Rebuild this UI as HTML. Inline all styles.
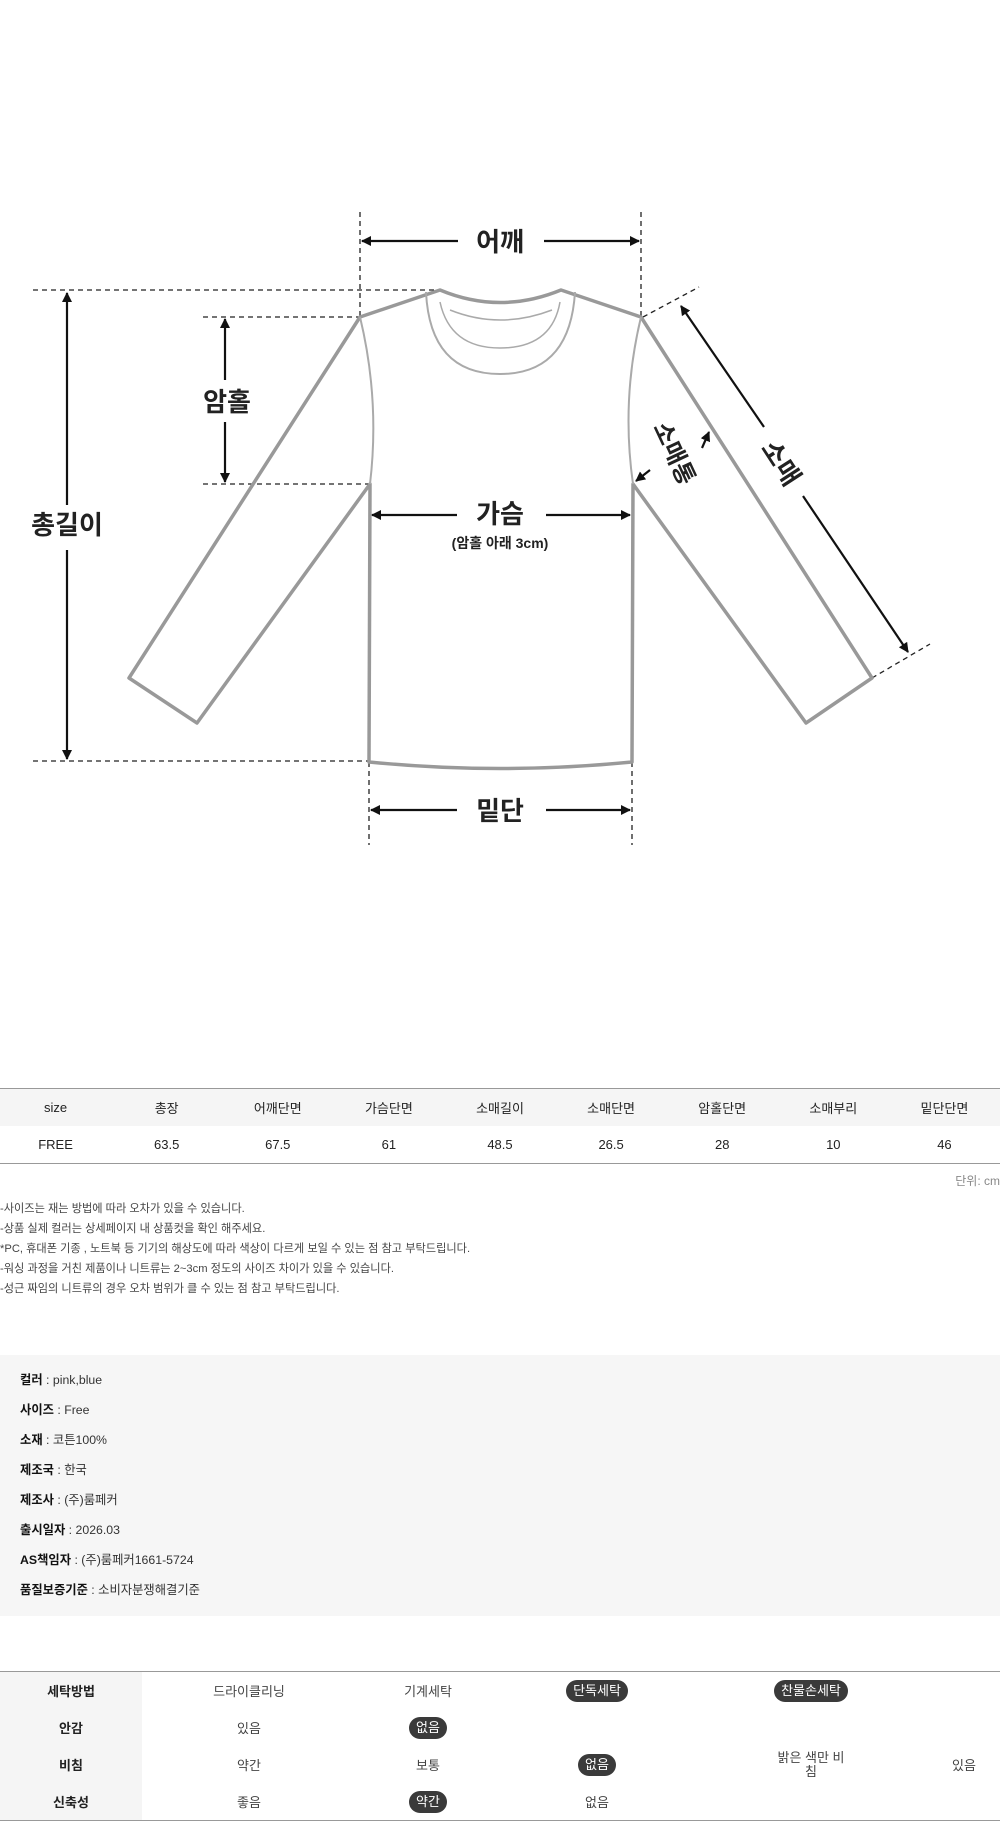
<!DOCTYPE html>
<html><head><meta charset="utf-8"><style>
body{margin:0;width:1000px;height:1824px;background:#fff;font-family:"Liberation Sans","Noto Sans CJK KR",sans-serif;color:#222;position:relative;overflow:hidden}
.abs{position:absolute}
table{border-collapse:collapse;table-layout:fixed}
.sz{position:absolute;left:0;top:1088px;width:1000px;border-top:1px solid #999;border-bottom:1px solid #999;font-size:13px}
.sz td{width:111px;text-align:center;height:37px;padding:0}
.sz tr:first-child td{background:#f5f5f5}
.note{position:absolute;left:0;font-size:11.2px;color:#444}
.info{position:absolute;left:0;top:1355px;width:1000px;height:261px;background:#f6f6f6}
.info div{position:absolute;left:20px;font-size:12.3px;color:#333}
.info b{color:#111}
.wt{position:absolute;left:0;top:1671px;width:1000px;border-top:1px solid #999;border-bottom:1px solid #999;font-size:13px;color:#444}
.wt td{height:37px;text-align:center;padding:0}
.wt td.h{background:#f5f5f5;font-weight:bold;color:#222}
.p{display:inline-block;background:#3a3a3a;color:#fff;border-radius:12px;padding:3px 7px;line-height:16px}
</style></head><body>
<svg class="abs" style="left:0;top:0" width="1000" height="880" viewBox="0 0 1000 880">
<defs><marker id="a" markerWidth="10" markerHeight="10" refX="9" refY="5" orient="auto" markerUnits="userSpaceOnUse"><path d="M0,0 L10,5 L0,10 z" fill="#111"/></marker></defs>
<g stroke="#222" stroke-width="1.3" stroke-dasharray="5,4" fill="none">
<line x1="360" y1="212" x2="360" y2="316"/><line x1="641" y1="212" x2="641" y2="316"/>
<line x1="33" y1="290" x2="440" y2="290"/>
<line x1="203" y1="317" x2="360" y2="317"/>
<line x1="203" y1="484" x2="370" y2="484"/>
<line x1="33" y1="761" x2="369" y2="761"/>
<line x1="369" y1="762" x2="369" y2="845"/><line x1="632" y1="762" x2="632" y2="845"/>
<line x1="643" y1="317" x2="699" y2="287"/>
<line x1="872" y1="678" x2="930" y2="644"/>
</g>
<g fill="none" stroke="#999" stroke-width="3.5" stroke-linejoin="round">
<path d="M440,290 Q500,315 561,290 L641,317 L872,678 L806,723 L633,484 L632,762 Q500,775 369,762 L370,484 L197,723 L129,678 L360,317 Z"/>
</g>
<g fill="none" stroke="#aaa" stroke-width="2">
<path d="M360,317 Q380,400 370,484"/><path d="M641,317 Q621,400 633,484"/>
<path d="M426,292 Q430,374 500,374 Q570,374 575,292"/>
<path d="M440,302 Q450,348 500,348 Q552,348 560,302" stroke-width="1.5"/>
<path d="M450,310 Q500,330 552,310" stroke-width="1.5"/>
</g>
<g stroke="#111" stroke-width="2.2" fill="none">
<line x1="458" y1="241" x2="362" y2="241" marker-end="url(#a)"/><line x1="544" y1="241" x2="639" y2="241" marker-end="url(#a)"/>
<line x1="67" y1="505" x2="67" y2="293" marker-end="url(#a)"/><line x1="67" y1="550" x2="67" y2="759" marker-end="url(#a)"/>
<line x1="225" y1="380" x2="225" y2="319" marker-end="url(#a)"/><line x1="225" y1="422" x2="225" y2="482" marker-end="url(#a)"/>
<line x1="457" y1="515" x2="372" y2="515" marker-end="url(#a)"/><line x1="546" y1="515" x2="630" y2="515" marker-end="url(#a)"/>
<line x1="457" y1="810" x2="371" y2="810" marker-end="url(#a)"/><line x1="546" y1="810" x2="630" y2="810" marker-end="url(#a)"/>
<line x1="764" y1="427" x2="681" y2="306" marker-end="url(#a)"/><line x1="803" y1="496" x2="908" y2="652" marker-end="url(#a)"/>
<line x1="702" y1="448" x2="709" y2="432" marker-end="url(#a)"/><line x1="650" y1="470" x2="636" y2="481" marker-end="url(#a)"/>
</g>
<g font-family="Liberation Sans,Noto Sans CJK KR,sans-serif" font-weight="bold" fill="#222" font-size="26" text-anchor="middle">
<text x="500" y="251">어깨</text>
<text x="67" y="534">총길이</text>
<text x="227" y="411">암홀</text>
<text x="500" y="523">가슴</text>
<text x="500" y="548" font-size="14">(암홀 아래 3cm)</text>
<text x="500" y="820">밑단</text>
<text x="781" y="472" transform="rotate(57 781 463)">소매</text>
<text x="675" y="462" font-size="24" transform="rotate(65 675 453)">소매통</text>
</g>
</svg>
<table class="sz"><tr><td>size</td><td>총장</td><td>어깨단면</td><td>가슴단면</td><td>소매길이</td><td>소매단면</td><td>암홀단면</td><td>소매부리</td><td>밑단단면</td></tr>
<tr><td>FREE</td><td>63.5</td><td>67.5</td><td>61</td><td>48.5</td><td>26.5</td><td>28</td><td>10</td><td>46</td></tr></table>
<div class="abs" style="right:0;top:1172px;font-size:12px;color:#888">단위: cm</div>
<div class="note" style="top:1200px">-사이즈는 재는 방법에 따라 오차가 있을 수 있습니다.</div>
<div class="note" style="top:1220px">-상품 실제 컬러는 상세페이지 내 상품컷을 확인 해주세요.</div>
<div class="note" style="top:1240px">*PC, 휴대폰 기종 , 노트북 등 기기의 해상도에 따라 색상이 다르게 보일 수 있는 점 참고 부탁드립니다.</div>
<div class="note" style="top:1260px">-워싱 과정을 거친 제품이나 니트류는 2~3cm 정도의 사이즈 차이가 있을 수 있습니다.</div>
<div class="note" style="top:1280px">-성근 짜임의 니트류의 경우 오차 범위가 클 수 있는 점 참고 부탁드립니다.</div>
<div class="info">
<div style="top:15px"><b>컬러</b> : pink,blue</div>
<div style="top:45px"><b>사이즈</b> : Free</div>
<div style="top:75px"><b>소재</b> : 코튼100%</div>
<div style="top:105px"><b>제조국</b> : 한국</div>
<div style="top:135px"><b>제조사</b> : (주)룸페커</div>
<div style="top:165px"><b>출시일자</b> : 2026.03</div>
<div style="top:195px"><b>AS책임자</b> : (주)룸페커1661-5724</div>
<div style="top:225px"><b>품질보증기준</b> : 소비자분쟁해결기준</div>
</div>
<table class="wt">
<colgroup><col style="width:142px"><col style="width:214px"><col style="width:144px"><col style="width:194px"><col style="width:234px"><col style="width:72px"></colgroup>
<tr><td class="h">세탁방법</td><td>드라이클리닝</td><td>기계세탁</td><td><span class="p">단독세탁</span></td><td><span class="p">찬물손세탁</span></td><td></td></tr>
<tr><td class="h">안감</td><td>있음</td><td><span class="p">없음</span></td><td></td><td></td><td></td></tr>
<tr><td class="h">비침</td><td>약간</td><td>보통</td><td><span class="p">없음</span></td><td style="line-height:14px">밝은 색만 비<br>침</td><td>있음</td></tr>
<tr><td class="h">신축성</td><td>좋음</td><td><span class="p">약간</span></td><td>없음</td><td></td><td></td></tr>
</table>
</body></html>
